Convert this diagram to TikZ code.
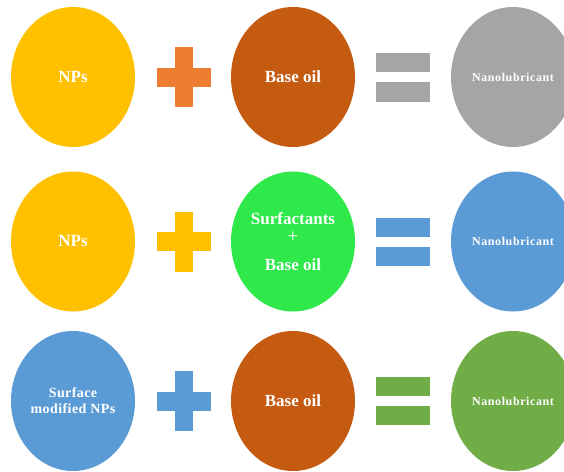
\documentclass[tikz,border=0pt]{standalone}
\usepackage{fontspec}
\setmainfont{Liberation Serif}
\usetikzlibrary{shapes.geometric}
\definecolor{cyellow}{HTML}{FFC000}
\definecolor{corange}{HTML}{ED7D31}
\definecolor{cbrown}{HTML}{C55A11}
\definecolor{cgray}{HTML}{A5A5A5}
\definecolor{cbright}{HTML}{2FE84A}
\definecolor{cblue}{HTML}{5B9BD5}
\definecolor{cgreen}{HTML}{70AD47}
\begin{document}
\begin{tikzpicture}[x=1pt,y=-1pt,
  blob/.style={ellipse, minimum width=124pt, minimum height=140pt, inner sep=0pt,
    text=white, align=center, font=\bfseries\fontsize{17}{19}\selectfont},
  small/.style={font=\bfseries\fontsize{12}{14}\selectfont\addfontfeatures{LetterSpace=5}},
  lbl/.style={text=white, inner sep=0pt, font=\bfseries\fontsize{17}{19}\selectfont},
]
\useasboundingbox (0,0) rectangle (564,471);

% ---------- row 1
\node[blob, fill=cyellow] (a1) at (73,77) {NPs};
\node[blob, fill=cbrown] (b1) at (293,77) {Base oil};
\node[blob, fill=cgray, small] (c1) at (513,77) {Nanolubricant};
\fill[corange] (183.5,77) ++(-27,-9.5) rectangle ++(54,19);
\fill[corange] (183.5,77) ++(-9,-30) rectangle ++(18,60);
\fill[cgray] (403,77.5) ++(-27,-24.2) rectangle ++(54,19);
\fill[cgray] (403,77.5) ++(-27,4.8) rectangle ++(54,19.4);

% ---------- row 2
\node[blob, fill=cyellow] (a2) at (73,241.5) {NPs};
\node[blob, fill=cbright] (b2) at (293,241.5) {};
\node[lbl] (b2s) at (293,219) {Surfactants};
\node[lbl, font=\fontsize{19}{19}\selectfont] (b2p) at (293,237.5) {+};
\node[lbl] (b2o) at (293,264.5) {Base oil};
\node[blob, fill=cblue, small] (c2) at (513,241.5) {Nanolubricant};
\fill[cyellow] (183.5,241.7) ++(-27,-9.5) rectangle ++(54,19);
\fill[cyellow] (183.5,241.7) ++(-9,-30) rectangle ++(18,60);
\fill[cblue] (403,242) ++(-27,-24.2) rectangle ++(54,19);
\fill[cblue] (403,242) ++(-27,4.8) rectangle ++(54,19.4);

% ---------- row 3
\node[blob, fill=cblue, font=\bfseries\fontsize{14}{16}\selectfont\addfontfeatures{LetterSpace=3}] (a3) at (73,401) {Surface\\modified NPs};
\node[blob, fill=cbrown] (b3) at (293,401) {Base oil};
\node[blob, fill=cgreen, small] (c3) at (513,401) {Nanolubricant};
\fill[cblue] (183.5,401) ++(-27,-9.5) rectangle ++(54,19);
\fill[cblue] (183.5,401) ++(-9,-30) rectangle ++(18,60);
\fill[cgreen] (403,401) ++(-27,-24.2) rectangle ++(54,19);
\fill[cgreen] (403,401) ++(-27,4.8) rectangle ++(54,19.4);
\end{tikzpicture}
\end{document}
